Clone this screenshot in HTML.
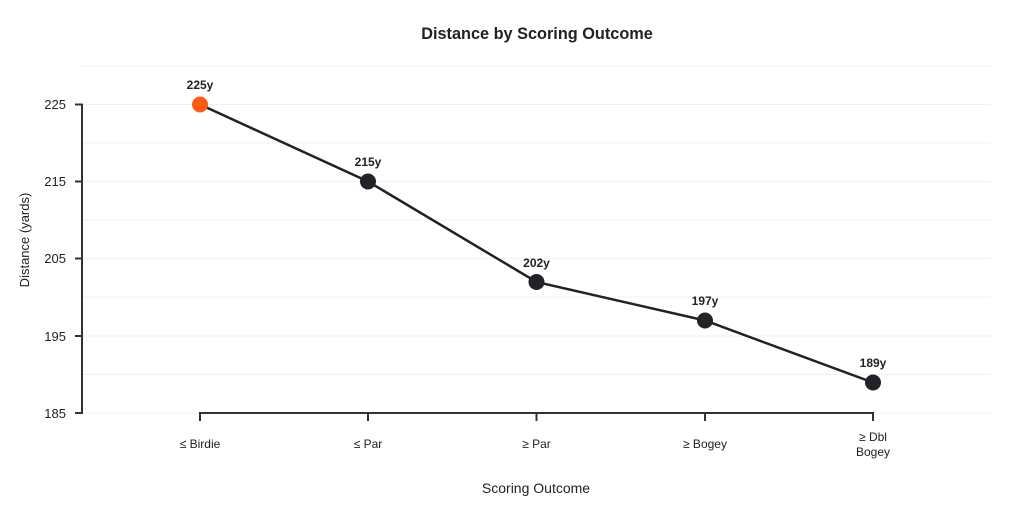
<!DOCTYPE html>
<html><head><meta charset="utf-8"><style>
html,body{margin:0;padding:0;background:#fff;}
svg{display:block;font-family:"Liberation Sans",Arial,sans-serif;}
</style></head><body>
<svg width="1024" height="512" viewBox="0 0 1024 512" xmlns="http://www.w3.org/2000/svg">
<rect width="1024" height="512" fill="#fff"/>
<text x="537" y="39" text-anchor="middle" font-size="16.3" font-weight="bold" fill="#222">Distance by Scoring Outcome</text>
<g stroke="#f0f0f0" stroke-width="1">
<line x1="82" x2="991" y1="66" y2="66"/>
<line x1="82" x2="991" y1="104.5" y2="104.5"/>
<line x1="82" x2="991" y1="143" y2="143"/>
<line x1="82" x2="991" y1="181.5" y2="181.5"/>
<line x1="82" x2="991" y1="220" y2="220"/>
<line x1="82" x2="991" y1="258.5" y2="258.5"/>
<line x1="82" x2="991" y1="297" y2="297"/>
<line x1="82" x2="991" y1="336" y2="336"/>
<line x1="82" x2="991" y1="374.5" y2="374.5"/>
<line x1="82" x2="991" y1="413" y2="413"/>
</g>
<g stroke="#333" stroke-width="2" fill="none">
<line x1="82" x2="82" y1="103.5" y2="414"/>
<line x1="75" x2="82" y1="104.5" y2="104.5"/>
<line x1="75" x2="82" y1="181.5" y2="181.5"/>
<line x1="75" x2="82" y1="258.5" y2="258.5"/>
<line x1="75" x2="82" y1="336" y2="336"/>
<line x1="75" x2="82" y1="413" y2="413"/>
<line x1="199" x2="874" y1="413" y2="413"/>
<line x1="200" x2="200" y1="413" y2="421"/>
<line x1="368" x2="368" y1="413" y2="421"/>
<line x1="536.5" x2="536.5" y1="413" y2="421"/>
<line x1="705" x2="705" y1="413" y2="421"/>
<line x1="873" x2="873" y1="413" y2="421"/>
</g>
<g font-size="13" fill="#222" text-anchor="end">
<text x="66" y="109">225</text>
<text x="66" y="186">215</text>
<text x="66" y="263">205</text>
<text x="66" y="341">195</text>
<text x="66" y="418">185</text>
</g>
<text transform="translate(29,240) rotate(-90)" text-anchor="middle" font-size="13" fill="#222">Distance (yards)</text>
<g font-size="12" fill="#222" text-anchor="middle">
<text x="200" y="448">≤ Birdie</text>
<text x="368" y="448">≤ Par</text>
<text x="536.5" y="448">≥ Par</text>
<text x="705" y="448">≥ Bogey</text>
<text x="873" y="441">≥ Dbl</text>
<text x="873" y="456">Bogey</text>
</g>
<text x="536" y="493" text-anchor="middle" font-size="14" fill="#222">Scoring Outcome</text>
<polyline points="200,104.5 368,181.5 536.5,282 705,320.5 873,382.5" fill="none" stroke="#222" stroke-width="2.5"/>
<circle cx="200" cy="104.5" r="8" fill="#FF5A0F"/>
<circle cx="368" cy="181.5" r="8" fill="#222228"/>
<circle cx="536.5" cy="282" r="8" fill="#222228"/>
<circle cx="705" cy="320.5" r="8" fill="#222228"/>
<circle cx="873" cy="382.5" r="8" fill="#222228"/>
<g font-size="12" font-weight="bold" fill="#222" text-anchor="middle">
<text x="200" y="89">225y</text>
<text x="368" y="166">215y</text>
<text x="536.5" y="267">202y</text>
<text x="705" y="305">197y</text>
<text x="873" y="367">189y</text>
</g>
</svg>
</body></html>
